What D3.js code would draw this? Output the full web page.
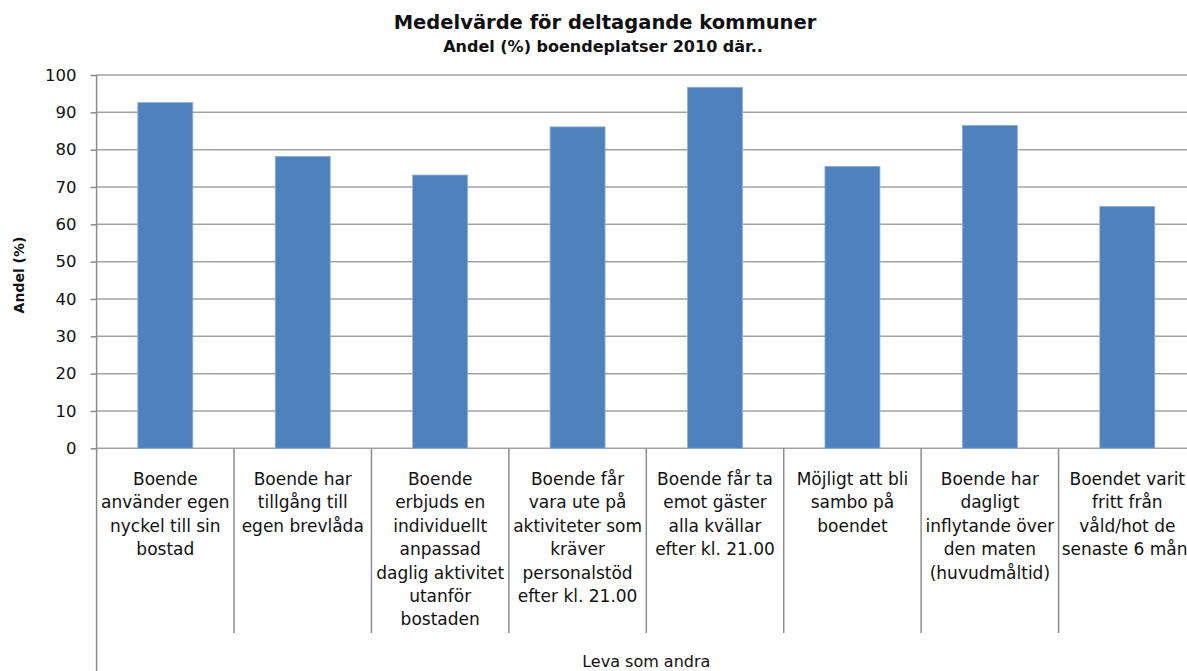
<!DOCTYPE html>
<html><head><meta charset="utf-8">
<script src="https://cdn.jsdelivr.net/npm/d3@7"></script>
<style>
html,body{margin:0;padding:0;background:#fff;}
svg{display:block;}
text{font-family:"DejaVu Sans",sans-serif;fill:#111;}
</style></head>
<body>
<svg id="chart" width="1187" height="671"></svg>
<script>
const titleText = "Medelvärde för deltagande kommuner";
const subtitleText = "Andel (%) boendeplatser 2010 där..";
const yLabelText = "Andel (%)";
const groupLabel = "Leva som andra";
const categories = [
  "Boende\nanvänder egen\nnyckel till sin\nbostad",
  "Boende har\ntillgång till\negen brevlåda",
  "Boende\nerbjuds en\nindividuellt\nanpassad\ndaglig aktivitet\nutanför\nbostaden",
  "Boende får\nvara ute på\naktiviteter som\nkräver\npersonalstöd\nefter kl. 21.00",
  "Boende får ta\nemot gäster\nalla kvällar\nefter kl. 21.00",
  "Möjligt att  bli\nsambo på\nboendet",
  "Boende har\ndagligt\ninflytande över\nden maten\n(huvudmåltid)",
  "Boendet varit\nfritt från\nvåld/hot de\nsenaste 6 mån."
];
const values = [92.6, 78.2, 73.2, 86.1, 96.7, 75.5, 86.5, 64.8];
const yTicks = [0, 10, 20, 30, 40, 50, 60, 70, 80, 90, 100];

const svg = d3.select("#chart");
const pLeft = 96.6, pRight = 1196, pTop = 75, pBottom = 448.3;

const x = d3.scaleBand().domain(categories).range([pLeft, pRight])
  .paddingInner(0.6).paddingOuter(0.3);
const step = x.step();
const y = d3.scaleLinear().domain([0, 100]).range([pBottom, pTop]);

// gridlines
svg.append("g").selectAll("line").data(yTicks).join("line")
  .attr("x1", pLeft).attr("x2", 1187)
  .attr("y1", d => y(d)).attr("y2", d => y(d))
  .attr("stroke", "#a3a3a3").attr("stroke-width", 1.5);

// bars
svg.append("g").selectAll("rect").data(values).join("rect")
  .attr("x", (d, i) => x(categories[i]))
  .attr("width", x.bandwidth())
  .attr("y", d => y(d))
  .attr("height", d => y(0) - y(d))
  .attr("fill", "#4f81bd")
  .attr("stroke", "#8eaed8").attr("stroke-width", 0.8);

// y axis
const yAxis = svg.append("g").attr("transform", `translate(${pLeft},0)`)
  .call(d3.axisLeft(y).tickValues(yTicks).tickSize(6).tickPadding(14).tickFormat(d3.format("d")));
yAxis.select(".domain").remove();
yAxis.selectAll(".tick line").attr("stroke", "#888").attr("stroke-width", 1.5);
yAxis.selectAll(".tick text").attr("font-size", 16.5).attr("fill", "#222")
  .style("font-family", "DejaVu Sans");
svg.append("line").attr("x1", pLeft).attr("x2", pLeft).attr("y1", pTop).attr("y2", 671)
  .attr("stroke", "#8c8c8c").attr("stroke-width", 1.5);

// category separators
svg.append("g").selectAll("line").data(categories).join("line")
  .attr("x1", (d) => x(d) - step * 0.3 + step).attr("x2", (d) => x(d) - step * 0.3 + step)
  .attr("y1", pBottom).attr("y2", 633)
  .attr("stroke", "#8c8c8c").attr("stroke-width", 1.5);

// category labels
const lab = svg.append("g").selectAll("text").data(categories).join("text")
  .attr("text-anchor", "middle").attr("font-size", 17)
  .attr("transform", d => `translate(${x(d) + x.bandwidth() / 2},485)`);
lab.selectAll("tspan").data(d => d.split("\n")).join("tspan")
  .attr("x", 0).attr("y", (d, i) => i * 23.4).text(d => d);

// group label
svg.append("text").attr("x", (pLeft + pRight) / 2).attr("y", 667)
  .attr("text-anchor", "middle").attr("font-size", 16).text(groupLabel);

// titles
svg.append("text").attr("x", 605).attr("y", 29).attr("text-anchor", "middle")
  .attr("font-size", 19.5).attr("font-weight", "bold").text(titleText);
svg.append("text").attr("x", 603).attr("y", 52).attr("text-anchor", "middle")
  .attr("font-size", 16).attr("font-weight", "bold").text(subtitleText);

// y label
svg.append("text").attr("transform", "translate(24,275) rotate(-90)")
  .attr("text-anchor", "middle").attr("font-size", 14).attr("font-weight", "bold")
  .text(yLabelText);
</script>
</body></html>
